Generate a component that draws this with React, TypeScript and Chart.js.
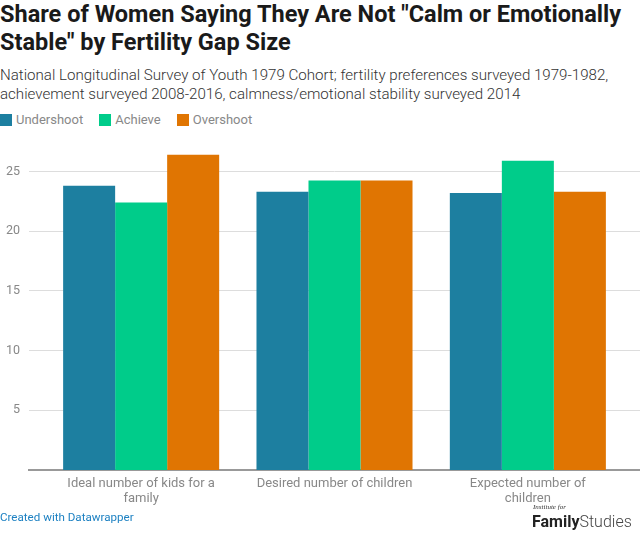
import React, { useEffect, useRef } from "react";
import { Chart, registerables } from "chart.js";

Chart.register(...registerables);

const categories: string[][] = [
  ["Ideal number of kids for a", "family"],
  ["Desired number of children"],
  ["Expected number of", "children"],
];
const seriesNames: string[] = ["Undershoot", "Achieve", "Overshoot"];
const seriesColors: string[] = ["#1d7fa0", "#00cc8a", "#e07502"];
const undershoot: number[] = [23.8, 23.3, 23.2];
const achieve: number[] = [22.4, 24.25, 25.9];
const overshoot: number[] = [26.4, 24.25, 23.3];
const yTicks: number[] = [5, 10, 15, 20, 25];

const seriesValues = [undershoot, achieve, overshoot];

export default function App() {
  const canvasRef = useRef<HTMLCanvasElement | null>(null);

  useEffect(() => {
    document.body.style.margin = "0";
    const canvas = canvasRef.current;
    if (!canvas) return;
    const chart = new Chart(canvas, {
      type: "bar",
      data: {
        datasets: seriesNames.map((name, si) => ({
          label: name,
          data: seriesValues[si].map((v, i) => ({ x: i, y: v })),
          backgroundColor: seriesColors[si],
          borderWidth: 0,
          categoryPercentage: 0.807,
          barPercentage: 1,
        })),
      } as any,
      options: {
        animation: false,
        responsive: false,
        devicePixelRatio: 1,
        layout: { padding: { top: 10, left: 0, right: 0, bottom: 0 } },
        plugins: { legend: { display: false }, tooltip: { enabled: false } },
        scales: {
          x: {
            type: "linear",
            min: -0.58,
            max: 2.58,
            offset: false,
            grid: { display: false, drawTicks: false, offset: false },
            border: { display: true, color: "#999", width: 2 },
            afterBuildTicks: (s: any) => {
              s.ticks = categories.map((_, i) => ({ value: i }));
            },
            afterFit: (s: any) => {
              s.height = 63;
              s.paddingLeft = 0;
              s.paddingRight = 0;
            },
            ticks: {
              callback: (v: any) => categories[v as number],
              font: { family: "Roboto", size: 13, lineHeight: 1.15 },
              color: "#888",
              padding: 6,
              maxRotation: 0,
              autoSkip: false,
            },
          },
          y: {
            type: "linear",
            min: 0,
            max: 27.64,
            afterBuildTicks: (s: any) => {
              s.ticks = yTicks.map((v) => ({ value: v }));
            },
            afterFit: (s: any) => {
              s.width = 29;
              s.paddingTop = 0;
              s.paddingBottom = 0;
            },
            grid: { color: "#ddd", drawTicks: false },
            border: { display: false },
            ticks: {
              font: { family: "Roboto", size: 12.5 },
              color: "#888",
              padding: 9,
            },
          },
        },
      } as any,
    });
    return () => chart.destroy();
  }, []);

  return (
    <div style={{ position: "fixed", left: 0, top: 0, width: 640, height: 533, background: "#fff", fontFamily: "Roboto, sans-serif", overflow: "hidden" }}>
      <div style={{ position: "absolute", left: 0, top: 0, width: 640, fontSize: 23.5, fontWeight: 700, lineHeight: "28px", color: "#1a1a1a" }}>
        Share of Women Saying They Are Not "Calm or Emotionally Stable" by Fertility Gap Size
      </div>
      <div style={{ position: "absolute", left: 0, top: 66, width: 640, fontSize: 15.1, fontWeight: 300, lineHeight: "19px", color: "#333" }}>
        National Longitudinal Survey of Youth 1979 Cohort; fertility preferences surveyed 1979-1982, achievement surveyed 2008-2016, calmness/emotional stability surveyed 2014
      </div>
      <div style={{ position: "absolute", left: 0, top: 112, display: "flex", alignItems: "center", fontSize: 13, color: "#888" }}>
        {seriesNames.map((n, i) => (
          <div key={n} style={{ display: "flex", alignItems: "center", marginRight: 16 }}>
            <span style={{ display: "inline-block", width: 12, height: 12, background: seriesColors[i], marginRight: 4 }} />
            <span>{n}</span>
          </div>
        ))}
      </div>
      <canvas ref={canvasRef} width={640} height={403} style={{ position: "absolute", left: 0, top: 130, width: 640, height: 403 }} />
      <div style={{ position: "absolute", left: 0, top: 510, fontSize: 11.6, color: "#1d81c2" }}>Created with Datawrapper</div>
      <div style={{ position: "absolute", left: 533, top: 503, fontSize: 7, fontStyle: "italic", fontFamily: "'Liberation Serif', serif", color: "#333" }}>Institute for</div>
      <div style={{ position: "absolute", left: 532, top: 512, fontSize: 16, color: "#222", whiteSpace: "nowrap" }}>
        <span style={{ fontWeight: 700 }}>Family</span>
        <span style={{ fontWeight: 300, color: "#444" }}>Studies</span>
      </div>
    </div>
  );
}
